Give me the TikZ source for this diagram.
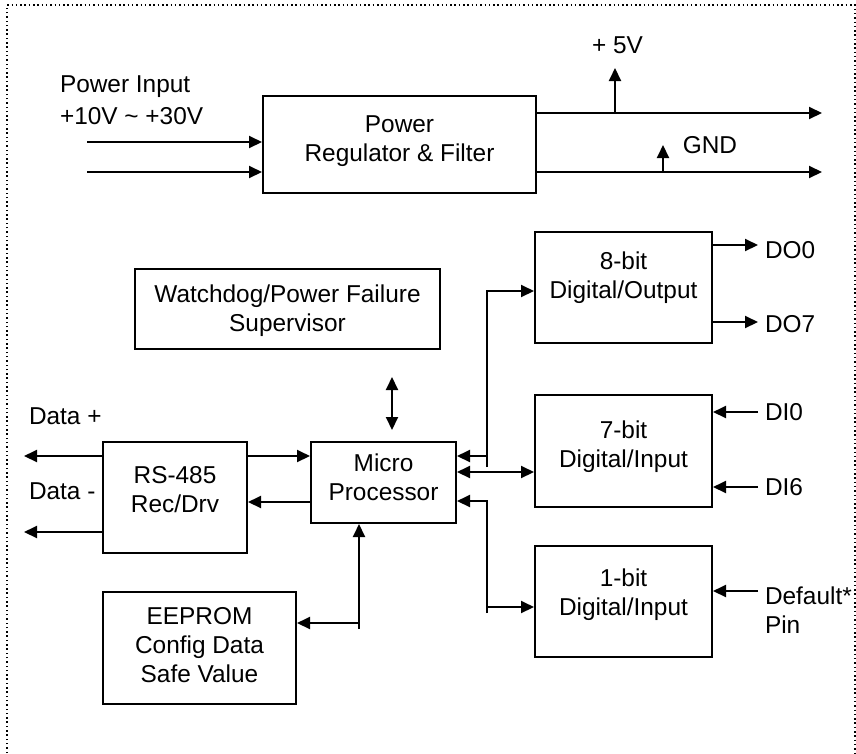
\documentclass[tikz,border=0pt]{standalone}
\usepackage{fontspec}
\setmainfont{Liberation Sans}
\usetikzlibrary{arrows.meta,positioning,calc}

\begin{document}
\begin{tikzpicture}[
  x=1pt, y=-1pt,
  font=\fontsize{24.4}{29}\selectfont,
  >={Triangle[length=13pt, width=12pt]},
  line width=2pt,
  box/.style={draw, inner sep=0pt},
  txt/.style={align=center, inner sep=0pt},
  pin/.style={anchor=west, inner xsep=6pt, inner ysep=0pt},
  arrow/.style={->},
  frame/.style={line width=1.5pt, dash pattern=on 1.5pt off 2.8pt}
]
  \useasboundingbox (0,0) rectangle (856,753);
  \draw[frame] (7,753) -- (7,5) -- (855,5) -- (855,753);

  % blocks
  \node[box, minimum width=273pt, minimum height=97pt,
    label={[txt, yshift=3.5pt]center:{Power\\Regulator \& Filter}}] (pwr) at (399.5,144.5) {};
  \node[box, minimum width=305pt, minimum height=80pt,
    label={[txt, yshift=-2pt]center:{Watchdog/Power Failure\\Supervisor}}] (wdog) at (287.5,309) {};
  \node[box, minimum width=144pt, minimum height=111pt,
    label={[txt, yshift=8pt]center:{RS-485\\Rec/Drv}}] (rs) at (175,497.5) {};
  \node[box, minimum width=145pt, minimum height=81pt,
    label={[txt, yshift=5pt]center:{Micro\\Processor}}] (mcu) at (383.5,482.5) {};
  \node[box, minimum width=193pt, minimum height=112pt,
    label={[txt, yshift=2.5pt]center:{EEPROM\\Config Data\\Safe Value}}] (eep) at (199.5,648) {};
  \node[box, minimum width=177pt, minimum height=111pt,
    label={[txt, yshift=9.5pt]center:{8-bit\\Digital/Output}}] (dout) at (623.5,287.5) {};
  \node[box, minimum width=177pt, minimum height=112pt,
    label={[txt, yshift=4.5pt]center:{7-bit\\Digital/Input}}] (din7) at (623.5,451) {};
  \node[box, minimum width=177pt, minimum height=111pt,
    label={[txt, yshift=6.5pt]center:{1-bit\\Digital/Input}}] (din1) at (623.5,601.5) {};

  % power part
  \node[anchor=west, align=left, inner sep=0pt] (pwrin) at (59,100) {Power Input\\[3pt]+10V \textasciitilde{} +30V};
  \coordinate (in1) at (87,142);
  \coordinate (in2) at (87,172);
  \draw[arrow] (in1) -- (pwr.west |- in1);
  \draw[arrow] (in2) -- (pwr.west |- in2);
  \coordinate (out5) at (822,113);
  \coordinate (outg) at (822,172);
  \draw[arrow] (pwr.east |- out5) -- (out5);
  \draw[arrow] (pwr.east |- outg) -- (outg);
  \coordinate (tap5) at (615,68);
  \coordinate (tapg) at (663,145);
  \draw[arrow] (tap5 |- out5) -- (tap5);
  \draw[arrow] (tapg |- outg) -- (tapg);
  \node[inner sep=0pt] (l5v) at (617.5,45) {+ 5V};
  \node[inner sep=0pt] (lgnd) at (710,145) {GND};

  % rs-485 side
  \coordinate (dp) at (24,456);
  \coordinate (dm) at (24,532);
  \node[anchor=west, inner sep=0pt] (ldp) at (28,416) {Data +};
  \node[anchor=west, inner sep=0pt] (ldm) at (28,491) {Data -};
  \draw[arrow] (rs.west |- dp) -- (dp);
  \draw[arrow] (rs.west |- dm) -- (dm);
  \draw[arrow] (rs.east |- dp) -- (mcu.west |- dp);
  \draw[arrow] ([yshift=-19.5pt]mcu.west) -- ([yshift=-19.5pt]mcu.west -| rs.east);

  % watchdog and eeprom
  \coordinate (wdt) at (392,377);
  \coordinate (wdb) at (392,430);
  \draw[<->] (wdt) -- (wdb);
  \coordinate (ej) at (359,629);
  \draw[arrow] (ej) -- (ej |- mcu.south);
  \draw[arrow] ([yshift=6pt]ej) -- ([yshift=6pt]ej -| eep.east);

  % digital i/o bus
  \coordinate (bj) at (487,467);
  \draw[arrow] (bj) |- ([yshift=-3.5pt]dout.west);
  \draw[arrow] ([yshift=11pt]bj) -- ([yshift=11pt]bj -| mcu.east);
  \draw[<->] ([yshift=10.5pt]mcu.east) -- ([yshift=10.5pt]mcu.east -| din7.west);
  \coordinate (cj) at (487,613);
  \draw[arrow] (cj) |- ([yshift=-18.5pt]mcu.east);
  \draw[arrow] ([yshift=6pt]cj) -- ([yshift=6pt]cj -| din1.west);

  % pins
  \coordinate (do0) at (758,245);
  \coordinate (do7) at (758,322);
  \coordinate (di0) at (758,412);
  \coordinate (di6) at (758,487);
  \coordinate (defp) at (758,591);
  \draw[arrow] (dout.east |- do0) -- (do0);
  \draw[arrow] (dout.east |- do7) -- (do7);
  \draw[arrow] (di0) -- (din7.east |- di0);
  \draw[arrow] (di6) -- (din7.east |- di6);
  \draw[arrow] (defp) -- (din1.east |- defp);
  \node[pin, yshift=-5pt] (ldo0) at (do0) {DO0};
  \node[pin, yshift=-2.5pt] (ldo7) at (do7) {DO7};
  \node[pin] (ldi0) at (di0) {DI0};
  \node[pin] (ldi6) at (di6) {DI6};
  \node[anchor=north west, align=left, inner sep=0pt] (ldef) at ([xshift=6pt, yshift=5pt]defp) {Default*\\Pin};
\end{tikzpicture}
\end{document}
